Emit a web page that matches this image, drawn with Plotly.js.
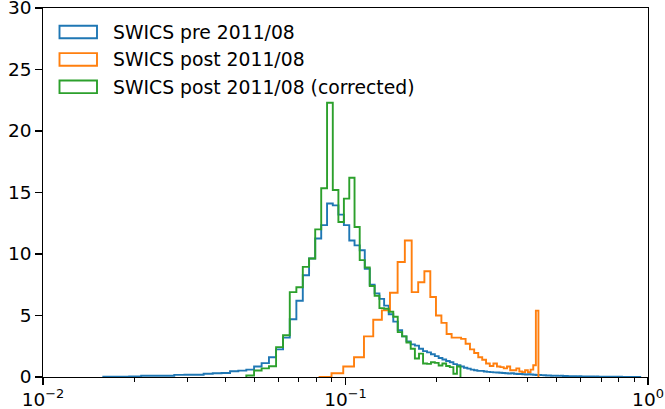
<!DOCTYPE html>
<html>
<head>
<meta charset="utf-8">
<script src="https://cdn.plot.ly/plotly-3.0.1.min.js"></script>
<style>html,body{margin:0;padding:0;background:#fff;}#chart{width:665px;height:409px;}</style>
</head>
<body>
<div id="chart"></div>
<script>
// ---- data ----
const seriesNames = ["SWICS pre 2011/08", "SWICS post 2011/08", "SWICS post 2011/08 (corrected)"];
const seriesColors = ["#1f77b4", "#ff7f0e", "#2ca02c"];

// Blue / green histograms: bins equally spaced in sqrt(x)
const rootBinStep = 0.0065;
const bluRootStart = 0.1258;
const blueValues = [
  0.02, 0.03, 0.05, 0.1, 0.1, 0.1, 0.17, 0.18, 0.18, 0.26,
  0.3, 0.33, 0.47, 0.52, 0.6, 0.85, 1.13, 1.6, 2.25, 3.2,
  4.7, 6.2, 8.27, 9.63, 11.26, 12.35, 14.1, 13.95, 13.2, 12.35,
  11.1, 10.7, 10.3, 8.8, 7.5, 6.8, 6.35, 5.8, 5.1, 4.5,
  3.8, 3.3, 2.9, 2.65, 2.55, 2.3, 2.1, 2.0, 1.85, 1.7,
  1.55, 1.42, 1.3, 1.2, 1.05, 0.95, 0.85, 0.75, 0.68, 0.6,
  0.55, 0.5, 0.5, 0.45, 0.42, 0.4, 0.38, 0.36, 0.35, 0.33,
  0.3, 0.28, 0.3, 0.26, 0.25, 0.24, 0.22, 0.2, 0.22, 0.2,
  0.18, 0.16, 0.17, 0.15, 0.14, 0.12, 0.12, 0.1, 0.11, 0.1,
  0.09, 0.1, 0.08, 0.08, 0.07, 0.07, 0.06, 0.06, 0.05, 0.06,
  0.05, 0.05, 0.04, 0.05, 0.04, 0.04, 0.03, 0.04, 0.03, 0.03,
  0.03, 0.02, 0.03, 0.02, 0.02, 0.02, 0.02, 0.02, 0.01, 0.02,
  0.01, 0.01, 0.01, 0.01, 0.01, 0.01, 0.01, 0.01, 0.005, 0.005
];
const greenRootStart = 0.2168;
const greenValues = [
  0.12, 0.53, 0.7, 0.88, 2.43, 3.4, 6.9, 7.3, 8.95, 9.63,
  12.0, 15.35, 22.3, 15.2, 12.6, 14.5, 16.2, 12.2, 9.5, 8.9,
  7.4, 6.6, 5.6, 5.55, 5.3, 4.9, 3.65, 3.3, 2.8, 2.3,
  1.5, 1.9, 1.1, 1.07, 1.2, 1.15, 0.94, 1.1, 0.9, 0.8,
  0.26, 0.85
];
// Orange histogram: bins equally spaced in x
const orangeStart = 0.0815;
const orangeBinWidth = 0.0084;
const orangeValues = [
  0, 0.3, 0.85, 1.6, 3.3, 4.66, 5.42, 6.85, 9.35, 11.1,
  6.9, 7.7, 8.6, 6.5, 5.0, 4.4, 3.5, 3.2, 3.2, 3.1,
  2.7, 2.25, 1.95, 1.6, 1.4, 1.1, 0.9, 1.1, 0.85, 0.8,
  0.7, 0.85, 0.55, 0.55, 0.7, 0.45, 0.4, 0.55, 0.4, 0.6,
  0.95, 5.4
];

const xTickVals = [0.01, 0.1, 1];
const xTickText = ["10<sup>\u22122</sup>", "10<sup>\u22121</sup>", "10<sup>0</sup>"];
const xMinorTicks = [0.02,0.03,0.04,0.05,0.06,0.07,0.08,0.09,0.2,0.3,0.4,0.5,0.6,0.7,0.8,0.9];
const yTickVals = [0, 5, 10, 15, 20, 25, 30];
const yTickText = ["0", "5", "10", "15", "20", "25", "30"];

// ---- helpers ----
function sqrtEdges(r0, step, n) {
  const e = [];
  for (let i = 0; i <= n; i++) { const r = r0 + i * step; e.push(r * r); }
  return e;
}
function linEdges(x0, step, n) {
  const e = [];
  for (let i = 0; i <= n; i++) e.push(x0 + i * step);
  return e;
}
function stepTrace(edges, vals, color, name) {
  const x = [edges[0]], y = [0];
  for (let i = 0; i < vals.length; i++) { x.push(edges[i]); y.push(vals[i]); }
  x.push(edges[vals.length]); y.push(0);
  return {x: x, y: y, type: 'scatter', mode: 'lines', name: name,
          line: {shape: 'hv', color: color, width: 1.9}, showlegend: false, hoverinfo: 'skip'};
}

const traces = [
  stepTrace(sqrtEdges(bluRootStart, rootBinStep, blueValues.length), blueValues, seriesColors[0], seriesNames[0]),
  stepTrace(linEdges(orangeStart, orangeBinWidth, orangeValues.length), orangeValues, seriesColors[1], seriesNames[1]),
  stepTrace(sqrtEdges(greenRootStart, rootBinStep, greenValues.length), greenValues, seriesColors[2], seriesNames[2])
];

// ---- manual matplotlib-style legend ----
const W = 665, H = 409, mL = 43, mR = 17, mT = 8, mB = 32;
const pw = W - mL - mR, ph = H - mT - mB;
const px2x = p => (p - mL) / pw;
const px2y = p => 1 - (p - mT) / ph;
const rowY = [32, 59.4, 86.8];
const shapes = [], annotations = [];
seriesNames.forEach((n, i) => {
  shapes.push({type: 'rect', xref: 'paper', yref: 'paper',
    x0: px2x(59.5), x1: px2x(97), y0: px2y(rowY[i] + 6.3), y1: px2y(rowY[i] - 6.3),
    line: {color: seriesColors[i], width: 1.9}, fillcolor: 'rgba(0,0,0,0)'});
  annotations.push({xref: 'paper', yref: 'paper', x: px2x(111), y: px2y(rowY[i] + 0.5),
    xanchor: 'left', yanchor: 'middle', text: n, showarrow: false,
    font: {family: 'DejaVu Sans', size: 18.8, color: '#000'}});
});

const axisCommon = {
  showgrid: false, zeroline: false, showline: true, mirror: true,
  linecolor: '#000', linewidth: 1.3, ticks: 'outside', ticklen: 6.5, tickwidth: 1.3,
  tickcolor: '#000', ticklabeloverflow: 'allow',
  tickfont: {family: 'DejaVu Sans', size: 18.5, color: '#000'}
};

const layout = {
  width: W, height: H,
  margin: {l: mL, r: mR, t: mT, b: mB, pad: 0},
  paper_bgcolor: '#fff', plot_bgcolor: '#fff',
  font: {family: 'DejaVu Sans', size: 18, color: '#000'},
  xaxis: Object.assign({}, axisCommon, {
    type: 'log', range: [-2, 0], tickmode: 'array', tickvals: xTickVals, ticktext: xTickText,
    ticklabelstandoff: -1,
    minor: {tickmode: 'array', tickvals: xMinorTicks, ticks: 'outside', ticklen: 3.7, tickwidth: 1, tickcolor: '#000', showgrid: false}
  }),
  yaxis: Object.assign({}, axisCommon, {
    range: [0, 30], tickmode: 'array', tickvals: yTickVals, ticktext: yTickText
  }),
  shapes: shapes, annotations: annotations, showlegend: false
};

Plotly.newPlot('chart', traces, layout, {staticPlot: true, displayModeBar: false});
</script>
</body>
</html>
